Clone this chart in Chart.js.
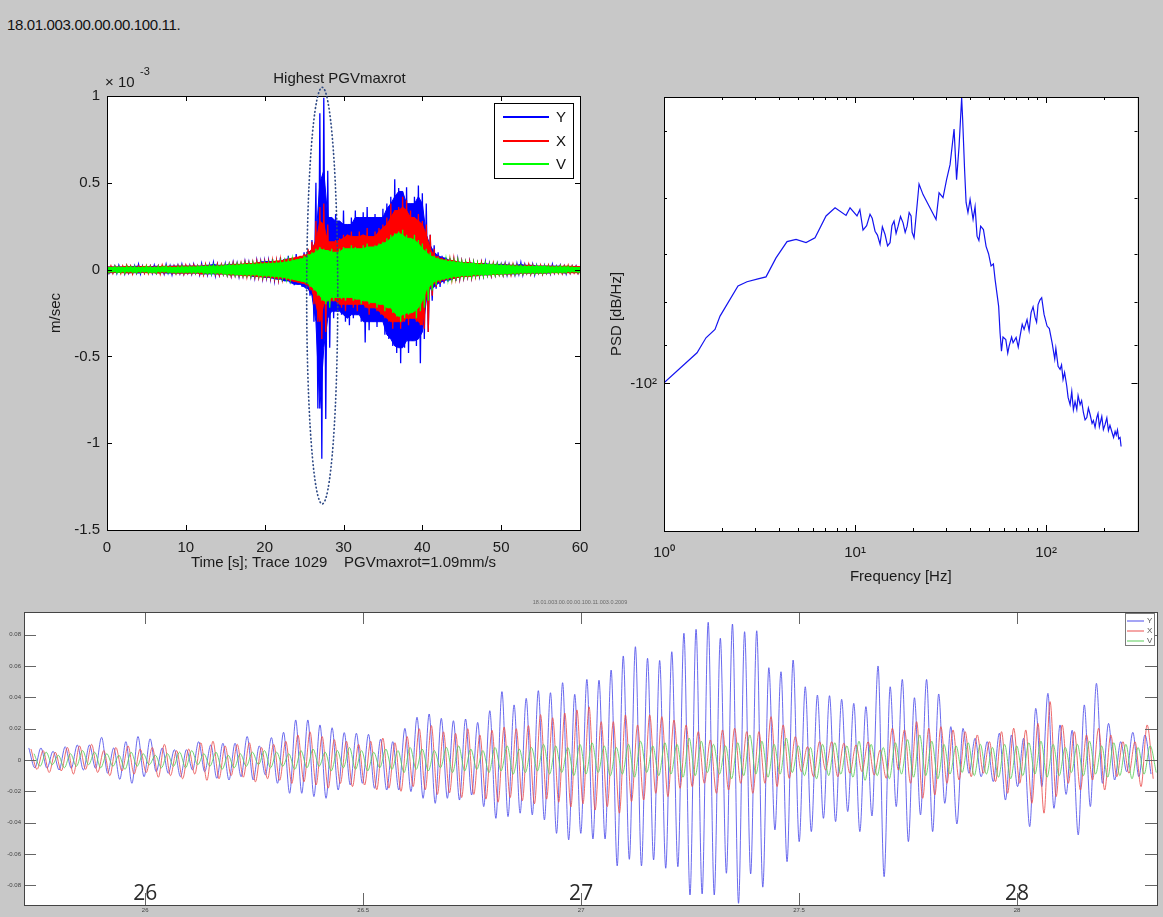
<!DOCTYPE html>
<html><head><meta charset="utf-8">
<script src="https://cdn.jsdelivr.net/npm/chart.js@4.4.1/dist/chart.umd.min.js"></script>
<style>
html,body{margin:0;padding:0;background:#c8c8c8;}
body{width:1163px;height:917px;position:relative;overflow:hidden;font-family:'Liberation Sans',Arial,sans-serif;}
#hdr{position:absolute;left:7px;top:16px;font-size:15px;line-height:18px;letter-spacing:-0.35px;color:#111;}
.wrap{position:absolute;}
#wA{left:0;top:60px;}
#wB{left:600px;top:60px;}
#wC{left:0;top:595px;}
canvas{display:block;}
</style></head>
<body>
<div id="hdr">18.01.003.00.00.00.100.11.</div>
<div class="wrap" id="wA"><canvas id="cA" width="600" height="530"></canvas></div>
<div class="wrap" id="wB"><canvas id="cB" width="563" height="530"></canvas></div>
<div class="wrap" id="wC"><canvas id="cC" width="1163" height="322"></canvas></div>
<script>
// ================= DATA =================
// --- Top-left: velocity trace envelopes (x 1e-3 m/s), one max & one min per 0.5 s bin, t = 0..60 s
const seisStep = 0.5;
const blueMax = [0.02,0.015,0.02,0.025,0.015,0.02,0.018,0.022,0.03,0.02,0.015,0.02,0.025,0.02,0.018,0.03,0.022,0.02,0.025,0.03,0.02,
0.025,0.03,0.02,0.035,0.025,0.03,0.04,0.03,0.025,0.035,0.03,0.04,0.035,0.03,0.045,0.04,0.035,0.05,0.045,0.048,
0.05,0.06,0.045,0.07,0.06,0.08,0.065,0.09,0.07,0.1,
0.11,0.17,0.5,0.9,0.99,0.57,0.3,0.32,0.28,0.34,
0.26,0.3,0.34,0.3,0.33,0.36,0.3,0.32,0.3,0.35,
0.38,0.42,0.52,0.47,0.45,0.475,0.38,0.42,0.485,0.44,
0.38,0.2,0.14,0.1,0.08,0.07,0.065,0.05,0.055,0.045,
0.04,0.045,0.04,0.035,0.04,0.045,0.035,0.03,0.035,0.03,
0.035,0.03,0.025,0.035,0.04,0.03,0.025,0.03,0.025,0.02,
0.025,0.02,0.03,0.02,0.025,0.02,0.015,0.02,0.02,0.015];
const blueMin = [-0.02,-0.018,-0.022,-0.015,-0.025,-0.02,-0.018,-0.02,-0.025,-0.02,-0.015,-0.022,-0.02,-0.018,-0.025,-0.02,-0.03,-0.02,-0.022,-0.025,-0.02,
-0.025,-0.02,-0.03,-0.025,-0.03,-0.025,-0.035,-0.03,-0.025,-0.03,-0.035,-0.03,-0.04,-0.035,-0.03,-0.04,-0.045,-0.04,-0.05,-0.045,
-0.05,-0.06,-0.055,-0.07,-0.065,-0.08,-0.09,-0.085,-0.1,-0.11,
-0.15,-0.3,-0.8,-1.09,-0.86,-0.45,-0.28,-0.24,-0.26,-0.3,
-0.32,-0.28,-0.26,-0.3,-0.42,-0.35,-0.3,-0.33,-0.3,-0.375,
-0.4,-0.44,-0.48,-0.54,-0.45,-0.48,-0.41,-0.44,-0.54,-0.4,
-0.36,-0.18,-0.11,-0.1,-0.08,-0.07,-0.06,-0.065,-0.05,-0.045,
-0.04,-0.045,-0.035,-0.04,-0.035,-0.03,-0.035,-0.03,-0.025,-0.03,
-0.03,-0.025,-0.03,-0.025,-0.03,-0.02,-0.025,-0.03,-0.02,-0.025,
-0.02,-0.025,-0.02,-0.015,-0.02,-0.025,-0.02,-0.015,-0.02,-0.015];
const redMax = [0.015,0.02,0.018,0.015,0.02,0.025,0.02,0.015,0.02,0.018,0.022,0.02,0.015,0.02,0.025,0.02,0.018,0.02,0.022,0.02,0.025,
0.02,0.025,0.02,0.022,0.03,0.025,0.02,0.03,0.028,0.025,0.03,0.035,0.03,0.035,0.04,0.035,0.04,0.045,0.04,0.042,
0.045,0.05,0.05,0.055,0.06,0.065,0.07,0.075,0.08,0.09,
0.12,0.16,0.28,0.36,0.38,0.26,0.16,0.17,0.18,0.2,
0.2,0.22,0.19,0.22,0.2,0.24,0.19,0.22,0.24,0.26,
0.3,0.38,0.34,0.36,0.42,0.4,0.34,0.3,0.32,0.28,
0.26,0.2,0.12,0.08,0.07,0.06,0.055,0.06,0.05,0.045,
0.04,0.045,0.04,0.035,0.04,0.035,0.03,0.035,0.03,0.025,
0.03,0.025,0.03,0.025,0.02,0.025,0.03,0.025,0.02,0.025,
0.02,0.025,0.02,0.018,0.022,0.02,0.025,0.02,0.018,0.02];
const redMin = [-0.018,-0.02,-0.015,-0.022,-0.02,-0.018,-0.025,-0.02,-0.015,-0.02,-0.022,-0.018,-0.02,-0.025,-0.02,-0.015,-0.02,-0.022,-0.02,-0.025,-0.02,
-0.022,-0.02,-0.025,-0.03,-0.025,-0.02,-0.028,-0.03,-0.025,-0.03,-0.035,-0.03,-0.032,-0.035,-0.04,-0.035,-0.04,-0.042,-0.045,-0.042,
-0.045,-0.05,-0.055,-0.05,-0.06,-0.065,-0.07,-0.075,-0.08,-0.09,
-0.12,-0.2,-0.3,-0.4,-0.36,-0.2,-0.18,-0.2,-0.22,-0.24,
-0.2,-0.22,-0.24,-0.2,-0.22,-0.26,-0.22,-0.24,-0.26,-0.28,
-0.3,-0.34,-0.3,-0.34,-0.3,-0.32,-0.28,-0.3,-0.32,-0.34,
-0.36,-0.15,-0.1,-0.08,-0.07,-0.06,-0.055,-0.05,-0.05,-0.045,
-0.04,-0.045,-0.04,-0.035,-0.035,-0.03,-0.035,-0.03,-0.028,-0.03,
-0.025,-0.03,-0.025,-0.022,-0.025,-0.02,-0.025,-0.022,-0.02,-0.025,
-0.02,-0.022,-0.018,-0.02,-0.022,-0.018,-0.02,-0.018,-0.02,-0.018];
const greenMax = [0.015,0.012,0.018,0.015,0.012,0.02,0.015,0.018,0.012,0.015,0.02,0.015,0.012,0.018,0.015,0.02,0.015,0.012,0.018,0.02,0.015,
0.018,0.015,0.02,0.018,0.022,0.02,0.025,0.02,0.022,0.025,0.028,0.025,0.03,0.028,0.032,0.03,0.035,0.032,0.035,0.034,
0.035,0.04,0.038,0.042,0.045,0.05,0.055,0.06,0.065,0.08,
0.09,0.1,0.12,0.13,0.12,0.11,0.12,0.1,0.12,0.13,
0.12,0.14,0.13,0.12,0.14,0.15,0.13,0.14,0.15,0.16,
0.18,0.2,0.21,0.22,0.23,0.2,0.18,0.2,0.17,0.15,
0.12,0.1,0.08,0.07,0.06,0.055,0.05,0.045,0.05,0.04,
0.04,0.035,0.04,0.035,0.03,0.035,0.03,0.028,0.03,0.025,
0.025,0.022,0.025,0.02,0.022,0.02,0.018,0.02,0.022,0.018,
0.02,0.018,0.015,0.018,0.02,0.015,0.018,0.015,0.012,0.015];
const greenMin = [-0.015,-0.012,-0.018,-0.015,-0.02,-0.012,-0.015,-0.018,-0.015,-0.012,-0.018,-0.015,-0.02,-0.015,-0.012,-0.018,-0.015,-0.02,-0.015,-0.018,-0.015,
-0.018,-0.02,-0.015,-0.022,-0.02,-0.025,-0.022,-0.02,-0.025,-0.028,-0.025,-0.03,-0.028,-0.03,-0.032,-0.035,-0.03,-0.035,-0.038,-0.036,
-0.038,-0.04,-0.042,-0.045,-0.05,-0.055,-0.06,-0.065,-0.07,-0.08,
-0.1,-0.12,-0.15,-0.18,-0.2,-0.22,-0.18,-0.16,-0.17,-0.18,
-0.16,-0.18,-0.17,-0.2,-0.18,-0.2,-0.19,-0.22,-0.2,-0.24,
-0.22,-0.25,-0.27,-0.3,-0.28,-0.26,-0.25,-0.28,-0.24,-0.22,
-0.18,-0.12,-0.09,-0.07,-0.06,-0.055,-0.05,-0.045,-0.04,-0.04,
-0.035,-0.04,-0.035,-0.03,-0.035,-0.03,-0.028,-0.03,-0.025,-0.028,
-0.025,-0.022,-0.025,-0.02,-0.022,-0.018,-0.02,-0.022,-0.018,-0.02,
-0.018,-0.02,-0.015,-0.018,-0.015,-0.018,-0.015,-0.012,-0.015,-0.015];
const seriesNames = ['Y','X','V'];
const seriesColors = ['#0000ff','#ff0000','#00ff00'];
const seisXTicks = [0,10,20,30,40,50,60];
const seisYTicks = [-1.5,-1,-0.5,0,0.5,1];
const seisTitle = 'Highest PGVmaxrot';
const seisXTitle = 'Time [s]; Trace 1029    PGVmaxrot=1.09mm/s';
const seisYTitle = 'm/sec';
const pgvEllipse = {t:27.3, v:-0.15, halfT:1.97, halfV:1.2};

// --- Top-right: PSD
const psdFreq = [1.0,1.489,1.659,1.849,1.965,2.44,2.72,3.105,3.42,3.858,4.406,4.911,5.54,6.174,7.05,7.86,8.973,9.415,
10.24,10.6,11.01,11.5,11.98,12.3,12.73,13.1,13.52,13.9,14.36,14.8,15.25,15.6,16.0,16.4,16.8,17.3,17.84,18.3,18.73,19.2,19.65,19.9,
20.37,21.63,22.7,24.4,26.55,27.53,28.88,30.14,31.43,32.99,34.0,35.04,36.15,36.59,37.44,38.13,39.0,40.01,41.48,42.5,43.52,44.5,
45.46,47.0,48.52,50.0,51.52,53.0,54.08,56.47,57.43,58.41,59.5,61.52,63.0,64.0,66.0,67.19,69.7,71.5,73.09,75.0,76.7,79.5,81.5,
83.46,85.5,87.6,89.2,90.8,92.8,94.84,97.6,101.2,104.0,107.5,111.0,112.5,115.6,118.4,120.5,122.7,125.0,128.3,130.4,133.6,136.3,
139.0,141.8,144.8,147.1,150.7,153.5,156.8,160.0,163.4,166.5,170.0,174.1,176.9,180.5,184.3,187.0,190.1,195.7,199.5,203.7,208.0,
212.0,216.0,220.8,225.6,229.8,233.0,236.5,240.0,244.0,247.0];
const psdDb = [-99.8,-91.9,-88.2,-86.2,-83.1,-76.5,-75.6,-75.0,-74.6,-70.8,-67.7,-67.3,-67.9,-67.0,-63.1,-61.7,-63.0,-61.7,
-63.1,-62.0,-65.6,-64.8,-62.8,-63.5,-65.8,-66.5,-68.2,-65.0,-66.4,-68.5,-67.9,-64.8,-64.0,-66.2,-64.9,-63.2,-64.3,-66.0,-64.9,-62.5,-63.1,-66.0,
-67.0,-57.8,-59.5,-61.4,-63.7,-59.2,-60.0,-57.1,-54.8,-49.7,-57.1,-52.1,-45.6,-48.4,-55.5,-60.8,-62.5,-60.3,-63.7,-61.5,-66.7,-67.5,
-64.9,-65.5,-68.6,-70.0,-72.4,-72.0,-75.1,-80.9,-87.0,-91.5,-88.0,-88.6,-92.0,-90.3,-88.0,-89.4,-88.1,-90.5,-87.8,-85.0,-86.2,-83.9,-86.5,
-82.3,-81.0,-83.4,-84.5,-80.5,-79.5,-79.0,-82.7,-85.4,-86.0,-89.4,-93.5,-90.8,-95.4,-96.2,-95.0,-98.9,-97.0,-100.7,-103.9,-106.0,-102.2,
-107.5,-105.1,-107.4,-103.4,-106.0,-104.8,-108.3,-110.5,-109.8,-107.0,-108.9,-111.6,-110.7,-112.8,-109.8,-108.6,-112.6,-109.5,-113.5,-111.9,-109.9,
-113.8,-112.2,-114.1,-116.0,-114.1,-115.2,-113.6,-116.4,-116.0,-118.9];
const psdXTicks = [1,2,3,4,5,6,7,8,9,10,20,30,40,50,60,70,80,90,100,200];
const psdXLabels = {1:'10\u2070', 10:'10\u00b9', 100:'10\u00b2'};
const psdYTicks = [-50,-60,-70,-80,-90,-100];
const psdYLabels = {'-100':'-10\u00b2'};
const psdXTitle = 'Frequency [Hz]';
const psdYTitle = 'PSD [dB/Hz]';

// --- Bottom: zoomed waveform, successive peaks and troughs
const zoomT0 = 25.733;      // first sample time (s)
const zoomPeriod = 0.02783; // dominant period (s)
const bluePeaks = [0.0077,0.0077,0.0056,0.0085,0.0096,0.0096,0.0145,0.0077,0.0117,0.015,
0.0135,0.0077,0.0066,0.0066,0.0117,0.0096,0.0107,0.0107,0.015,0.009,
0.0143,0.0177,0.0256,0.0256,0.0224,0.0206,0.0175,0.0171,0.0164,0.0133,
0.0117,0.0202,0.0273,0.0294,0.0266,0.0251,0.0262,0.024,0.0315,0.0437,
0.0352,0.0394,0.0443,0.043,0.0494,0.042,0.0515,
0.051,0.0575,0.0665,0.0724,0.065,0.0636,0.0692,0.081,0.0835,0.088,
0.0778,0.0869,0.082,0.0826,0.059,0.0564,0.0639,0.0468,0.0415,0.0411,
0.0388,0.0362,0.0341,0.0601,0.0468,0.0515,0.0398,0.0515,0.0422,0.0213,
0.0202,0.0139,0.0117,0.0171,0.016,0.0139,0.033,0.0426,0.0224,0.019,
0.0352,0.049,0.0234,0.0117,0.0177,0.016];
const blueTroughs = [-0.005,-0.0053,-0.0064,-0.0053,-0.0064,-0.0053,-0.0085,-0.0124,-0.0149,-0.0107,-0.0075,
-0.0085,-0.0107,-0.0064,-0.0075,-0.0117,-0.0128,-0.0107,-0.0128,-0.0096,-0.0149,
-0.0213,-0.0213,-0.0234,-0.0245,-0.0192,-0.016,-0.0149,-0.0181,-0.0192,-0.0192,
-0.0202,-0.0245,-0.0277,-0.0245,-0.0256,-0.0224,-0.0298,-0.0373,-0.0362,-0.034,
-0.0351,-0.0383,-0.0469,-0.0511,-0.0469,
-0.0505,-0.0505,-0.0677,-0.0635,-0.0677,-0.0639,-0.0692,-0.0682,-0.0863,-0.0856,
-0.0863,-0.0724,-0.0916,-0.0728,-0.0813,-0.0447,-0.065,-0.0522,-0.0458,-0.0373,
-0.0394,-0.033,-0.0458,-0.0358,-0.0746,-0.0298,-0.0522,-0.0351,-0.0458,-0.0277,
-0.0409,-0.0085,-0.0107,-0.0138,-0.0256,-0.017,-0.0426,-0.017,-0.0309,-0.022,
-0.0479,-0.0298,-0.0149,-0.0128,-0.0075,-0.0107,-0.009];
const redPeaks = [0.007,0.006,0.005,0.008,0.009,0.01,0.006,0.008,0.009,0.007,
0.008,0.01,0.006,0.007,0.011,0.012,0.009,0.01,0.011,0.008,
0.01,0.012,0.016,0.018,0.015,0.013,0.012,0.01,0.012,0.014,
0.011,0.015,0.02,0.022,0.018,0.017,0.02,0.016,0.019,0.021,
0.02,0.022,0.029,0.027,0.03,0.032,0.034,
0.0245,0.0245,0.0288,0.0224,0.0288,0.0277,0.0256,0.0224,0.0181,0.0128,
0.0192,0.0203,0.0181,0.0181,0.0277,0.0224,0.0149,0.0085,0.0117,0.0117,
0.0107,0.0096,0.0117,0.0064,0.0203,0.0192,0.0245,0.0203,0.0213,0.0192,
0.0181,0.016,0.0117,0.0181,0.0203,0.0192,0.0234,0.0373,0.0224,0.0181,
0.016,0.0203,0.016,0.0117,0.0117,0.0224];
const redTroughs = [-0.006,-0.008,-0.007,-0.009,-0.006,-0.008,-0.01,-0.007,-0.009,-0.008,
-0.011,-0.01,-0.012,-0.009,-0.013,-0.012,-0.01,-0.011,-0.014,-0.012,
-0.013,-0.015,-0.014,-0.016,-0.018,-0.015,-0.017,-0.016,-0.019,-0.018,
-0.02,-0.017,-0.019,-0.022,-0.021,-0.024,-0.022,-0.025,-0.027,-0.024,
-0.026,-0.028,-0.025,-0.027,-0.03,-0.028,-0.032,
-0.0298,-0.034,-0.0266,-0.0256,-0.0213,-0.0234,-0.0181,-0.017,-0.0149,-0.0213,
-0.0192,-0.0149,-0.0213,-0.0149,-0.017,-0.0117,-0.0075,-0.0107,-0.0064,-0.0107,
-0.0085,-0.0075,-0.0096,-0.0117,-0.0064,-0.0149,-0.0245,-0.0224,-0.0149,-0.0128,
-0.0107,-0.0085,-0.0138,-0.0213,-0.0149,-0.0277,-0.034,-0.0234,-0.0149,-0.0192,
-0.0128,-0.0192,-0.0107,-0.0085,-0.017,-0.012];
const greenPeaks = [0.004,0.005,0.003,0.004,0.006,0.005,0.004,0.003,0.005,0.004,0.003,0.004,0.005,0.006,0.004,0.005,0.003,0.004,0.005,0.006,
0.005,0.004,0.006,0.007,0.005,0.006,0.008,0.006,0.005,0.007,0.006,0.008,0.007,0.006,0.008,0.009,0.007,0.006,0.008,0.009,
0.007,0.008,0.01,0.009,0.008,0.01,0.011,0.009,0.008,0.01,0.012,0.009,0.011,0.01,0.014,0.012,0.01,0.009,0.011,0.016,
0.012,0.01,0.014,0.009,0.008,0.01,0.011,0.009,0.012,0.01,0.008,0.011,0.013,0.016,0.012,0.01,0.009,0.011,0.01,0.008,
0.01,0.009,0.011,0.012,0.01,0.008,0.01,0.012,0.009,0.011,0.01,0.008,0.009];
const greenTroughs = [-0.004,-0.003,-0.005,-0.004,-0.003,-0.005,-0.004,-0.006,-0.004,-0.003,-0.005,-0.004,-0.005,-0.003,-0.004,-0.006,-0.005,-0.004,-0.003,-0.005,
-0.004,-0.006,-0.005,-0.004,-0.007,-0.005,-0.006,-0.007,-0.005,-0.006,-0.008,-0.006,-0.007,-0.005,-0.008,-0.007,-0.006,-0.008,-0.007,-0.009,
-0.008,-0.007,-0.009,-0.008,-0.01,-0.009,-0.008,-0.01,-0.009,-0.011,-0.008,-0.01,-0.009,-0.011,-0.01,-0.008,-0.009,-0.012,-0.01,-0.009,
-0.011,-0.009,-0.008,-0.01,-0.012,-0.01,-0.009,-0.011,-0.013,-0.01,-0.012,-0.009,-0.011,-0.01,-0.012,-0.009,-0.008,-0.01,-0.009,-0.011,
-0.012,-0.01,-0.009,-0.011,-0.01,-0.008,-0.01,-0.009,-0.011,-0.01,-0.012,-0.009,-0.008];
const zoomXTicks = [26,26.5,27,27.5,28];
const zoomYTicks = [-0.08,-0.06,-0.04,-0.02,0,0.02,0.04,0.06,0.08];
const zoomBigLabels = [26,27,28];
const zoomTitle = '18.01.003.00.00.00.100.11.003.0.2009';

// ================= HELPERS =================
const FONT = "'Liberation Sans', Arial, Helvetica, sans-serif";
Chart.defaults.font.family = FONT;
Chart.defaults.color = '#1a1a1a';

function zigzag(maxs, mins, step){
  const pts = [];
  for (let i = 0; i < maxs.length; i++){
    pts.push({x: i*step, y: maxs[i]});
    if (i < mins.length) pts.push({x: i*step + step/2, y: mins[i]});
  }
  return pts;
}
// solid core of a trace: smallest excursion among neighbouring bins (spikes stay as the zigzag)
function core(arr, step, upper){
  return arr.map((v, i) => {
    const a = arr[Math.max(0, i-1)], b = arr[Math.min(arr.length-1, i+1)];
    return {x: i*step, y: upper ? Math.min(a, v, b) : Math.max(a, v, b)};
  });
}
function waves(peaks, troughs, t0, period){
  const pts = [];
  for (let i = 0; i < peaks.length; i++){
    pts.push({x: t0 + i*period, y: peaks[i]});
    if (i < troughs.length) pts.push({x: t0 + (i+0.5)*period, y: troughs[i]});
  }
  return pts;
}
const setTicks = arr => s => { s.ticks = arr.map(v => ({value: v})); };
const plainNum = v => String(Math.round(v*1000)/1000);

// frame with inward ticks on all four sides
const framePlugin = {
  id: 'frame',
  beforeDraw(chart){
    const a = chart.chartArea, c = chart.ctx;
    c.save(); c.fillStyle = '#fff';
    c.fillRect(a.left, a.top, a.right - a.left, a.bottom - a.top);
    c.restore();
  },
  afterDatasetsDraw(chart, args, o){
    const a = chart.chartArea, c = chart.ctx;
    c.save();
    c.strokeStyle = o.tickColor || o.color; c.lineWidth = 1;
    c.beginPath();
    for (const id in chart.scales){
      const s = chart.scales[id];
      for (const t of s.ticks){
        const major = t.label !== '' && t.label != null;
        const L = major ? o.major : o.minor;
        const p = Math.round(s.getPixelForValue(t.value)) + 0.5;
        if (s.isHorizontal()){
          if (p < a.left + 1 || p > a.right - 1) continue;
          c.moveTo(p, a.bottom); c.lineTo(p, a.bottom - L);
          c.moveTo(p, a.top); c.lineTo(p, a.top + L);
        } else {
          if (p < a.top + 1 || p > a.bottom - 1) continue;
          c.moveTo(a.left, p); c.lineTo(a.left + L, p);
          c.moveTo(a.right, p); c.lineTo(a.right - L, p);
        }
      }
    }
    c.stroke();
    c.strokeStyle = o.color; c.lineWidth = o.width || 1;
    c.strokeRect(Math.round(a.left) + 0.5, Math.round(a.top) + 0.5, Math.round(a.right - a.left), Math.round(a.bottom - a.top));
    c.restore();
  }
};

const noGrid = {display: false, drawTicks: false};
const noBorder = {display: false};
const f15 = {family: FONT, size: 15};

// ================= CHART A =================
const seisDeco = {
  id: 'seisDeco',
  afterDraw(chart){
    const a = chart.chartArea, c = chart.ctx, xs = chart.scales.x, ys = chart.scales.y;
    c.save();
    const cx = xs.getPixelForValue(pgvEllipse.t), cy = ys.getPixelForValue(pgvEllipse.v);
    const rx = xs.getPixelForValue(pgvEllipse.t + pgvEllipse.halfT) - cx;
    const ry = cy - ys.getPixelForValue(pgvEllipse.v + pgvEllipse.halfV);
    c.strokeStyle = '#2f4a86'; c.lineWidth = 1.7; c.lineCap = 'round'; c.setLineDash([0.6, 3.2]);
    c.beginPath(); c.ellipse(cx, cy, rx, ry, 0, 0, Math.PI*2); c.stroke();
    c.setLineDash([]); c.lineCap = 'butt';
    const bw = 79, bh = 75, bx = a.right - 7 - bw, by = a.top + 7;
    c.fillStyle = '#fff'; c.fillRect(bx, by, bw, bh);
    c.strokeStyle = '#000'; c.lineWidth = 1; c.strokeRect(Math.round(bx)+0.5, Math.round(by)+0.5, bw, bh);
    const rows = [14, 38, 61];
    c.font = '15px ' + FONT; c.textBaseline = 'middle'; c.textAlign = 'left';
    seriesNames.forEach((name, i) => {
      c.strokeStyle = seriesColors[i]; c.lineWidth = 2;
      c.beginPath(); c.moveTo(bx + 9, by + rows[i]); c.lineTo(bx + 55, by + rows[i]); c.stroke();
      c.fillStyle = '#111'; c.fillText(name, bx + 62, by + rows[i] + 1);
    });
    c.fillStyle = '#1a1a1a';
    c.textAlign = 'center'; c.font = '15px ' + FONT;
    c.fillText(seisTitle, (a.left + a.right)/2 - 4, a.top - 17);
    c.textAlign = 'left';
    c.fillText('\u00d7 10', a.left - 2, a.top - 13);
    c.font = '11px ' + FONT;
    c.fillText('-3', a.left + 33, a.top - 24);
    c.restore();
  }
};

const traceSets = (maxs, mins, i, order) => [
  {label: seriesNames[i], data: zigzag(maxs, mins, seisStep), borderColor: seriesColors[i], borderWidth: 1.3, fill: false, order: order},
  {label: seriesNames[i] + ' core+', data: core(maxs, seisStep, true), borderColor: seriesColors[i], backgroundColor: seriesColors[i], borderWidth: 1, fill: '+1', order: order},
  {label: seriesNames[i] + ' core-', data: core(mins, seisStep, false), borderColor: seriesColors[i], borderWidth: 1, fill: false, order: order}
];

new Chart(document.getElementById('cA'), {
  type: 'line',
  data: {datasets: [
    ...traceSets(blueMax, blueMin, 0, 3),
    ...traceSets(redMax, redMin, 1, 2),
    ...traceSets(greenMax, greenMin, 2, 1)
  ]},
  options: {
    responsive: false, animation: false, devicePixelRatio: 1,
    layout: {padding: {left: 0, right: 20, top: 36, bottom: 0}},
    elements: {point: {radius: 0}, line: {tension: 0}},
    plugins: {legend: {display: false}, tooltip: {enabled: false}, filler: {propagate: false},
      frame: {color: '#000', major: 5, minor: 3}},
    scales: {
      x: {type: 'linear', min: 0, max: 60, afterBuildTicks: setTicks(seisXTicks), afterFit: s => { s.height = 60; },
          grid: noGrid, border: noBorder,
          ticks: {font: f15, padding: 9, autoSkip: false, maxRotation: 0, color: '#1a1a1a', callback: plainNum},
          title: {display: true, text: seisXTitle, font: f15, color: '#1a1a1a', padding: {top: 0, bottom: 18}}},
      y: {type: 'linear', min: -1.5, max: 1, afterBuildTicks: setTicks(seisYTicks), afterFit: s => { s.width = 107; },
          grid: noGrid, border: noBorder,
          ticks: {font: f15, padding: 7, autoSkip: false, color: '#1a1a1a', callback: plainNum},
          title: {display: true, text: seisYTitle, font: f15, color: '#1a1a1a', padding: {top: 47, bottom: 0}}}
    }
  },
  plugins: [framePlugin, seisDeco]
});

// ================= CHART B =================
new Chart(document.getElementById('cB'), {
  type: 'line',
  data: {datasets: [{label: 'PSD', data: psdFreq.map((f, i) => ({x: f, y: -psdDb[i]})), borderColor: '#1414f0', borderWidth: 1.2}]},
  options: {
    responsive: false, animation: false, devicePixelRatio: 1,
    layout: {padding: {left: 0, right: 25.5, top: 37, bottom: 0}},
    elements: {point: {radius: 0}, line: {tension: 0}},
    plugins: {legend: {display: false}, tooltip: {enabled: false},
      frame: {color: '#000', major: 6, minor: 3}},
    scales: {
      x: {type: 'logarithmic', min: 1, max: 301, afterBuildTicks: setTicks(psdXTicks), afterFit: s => { s.height = 59; },
          grid: noGrid, border: noBorder,
          ticks: {font: f15, padding: 13, autoSkip: false, maxRotation: 0, color: '#1a1a1a', callback: v => psdXLabels[v] || ''},
          title: {display: true, text: psdXTitle, font: f15, color: '#1a1a1a', padding: {top: 0, bottom: 4}}},
      y: {type: 'logarithmic', reverse: true, min: 45.5, max: 150,
          afterBuildTicks: s => { s.ticks = psdYTicks.map(v => ({value: -v})); }, afterFit: s => { s.width = 64; },
          grid: noGrid, border: noBorder,
          ticks: {font: f15, padding: 7, autoSkip: false, color: '#1a1a1a', callback: v => psdYLabels[String(-v)] || ''},
          title: {display: true, text: psdYTitle, font: f15, color: '#1a1a1a', padding: {top: 8, bottom: 0}}}
    }
  },
  plugins: [framePlugin]
});

// ================= CHART C =================
const zoomDeco = {
  id: 'zoomDeco',
  afterDraw(chart){
    const a = chart.chartArea, c = chart.ctx, xs = chart.scales.x;
    c.save();
    c.fillStyle = '#6a6a6a'; c.font = '5.5px ' + FONT; c.textAlign = 'center'; c.textBaseline = 'middle';
    c.fillText(zoomTitle, 580, 7);
    const bw = 29, bh = 32, bx = a.right - 3 - bw, by = a.top + 1;
    c.fillStyle = '#fff'; c.fillRect(bx, by, bw, bh);
    c.strokeStyle = '#7a7a7a'; c.lineWidth = 1; c.strokeRect(Math.round(bx)+0.5, Math.round(by)+0.5, bw, bh);
    const rows = [8, 18, 28];
    c.font = '8px ' + FONT; c.textAlign = 'left';
    chart.data.datasets.forEach((d, i) => {
      c.strokeStyle = d.borderColor; c.lineWidth = 1.2;
      c.beginPath(); c.moveTo(bx + 2, by + rows[i]); c.lineTo(bx + 19, by + rows[i]); c.stroke();
      c.fillStyle = '#555'; c.fillText(d.label, bx + 22, by + rows[i]);
    });
    c.fillStyle = '#2a2a2a'; c.font = "21px 'Open Sans', 'Noto Sans', sans-serif"; c.textAlign = 'center'; c.textBaseline = 'middle';
    zoomBigLabels.forEach(v => c.fillText(String(v), xs.getPixelForValue(v), a.bottom - 11));
    c.restore();
  }
};

const f6 = {family: FONT, size: 6};
new Chart(document.getElementById('cC'), {
  type: 'line',
  data: {datasets: [
    {label: seriesNames[0], data: waves(bluePeaks, blueTroughs, zoomT0, zoomPeriod), borderColor: 'rgba(80,80,235,0.85)', order: 3},
    {label: seriesNames[1], data: waves(redPeaks, redTroughs, zoomT0 + 0.005, zoomPeriod), borderColor: 'rgba(235,80,80,0.85)', order: 2},
    {label: seriesNames[2], data: waves(greenPeaks, greenTroughs, zoomT0 + 0.012, zoomPeriod), borderColor: 'rgba(90,205,90,0.85)', order: 1}
  ]},
  options: {
    responsive: false, animation: false, devicePixelRatio: 1,
    layout: {padding: {left: 0, right: 6, top: 17, bottom: 0}},
    elements: {point: {radius: 0}, line: {borderWidth: 1, cubicInterpolationMode: 'monotone'}},
    plugins: {legend: {display: false}, tooltip: {enabled: false},
      frame: {color: '#444', tickColor: '#666', major: 12, minor: 6}},
    scales: {
      x: {type: 'linear', min: 25.722, max: 28.321, afterBuildTicks: setTicks(zoomXTicks), afterFit: s => { s.height = 12; },
          grid: noGrid, border: noBorder,
          ticks: {font: f6, padding: 2, autoSkip: false, maxRotation: 0, color: '#444', callback: plainNum}},
      y: {type: 'linear', min: -0.0927, max: 0.0946, afterBuildTicks: setTicks(zoomYTicks), afterFit: s => { s.width = 24; },
          grid: noGrid, border: noBorder,
          ticks: {font: f6, padding: 3, autoSkip: false, color: '#444', callback: plainNum}}
    }
  },
  plugins: [framePlugin, zoomDeco]
});
</script>
</body></html>
